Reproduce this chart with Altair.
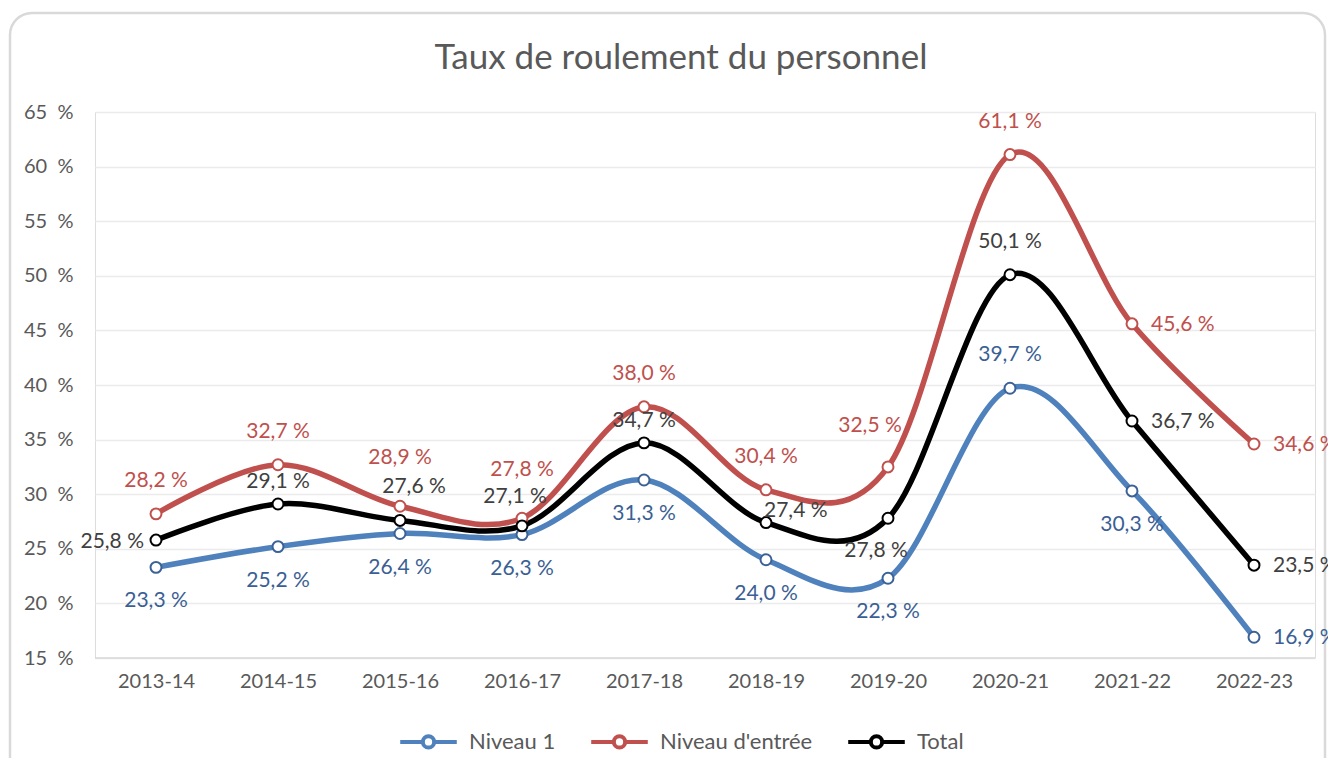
import altair as alt
import pandas as pd

# ---- data ----
chart_title = "Taux de roulement du personnel"
years = ["2013-14", "2014-15", "2015-16", "2016-17", "2017-18",
         "2018-19", "2019-20", "2020-21", "2021-22", "2022-23"]
series_names = ["Niveau 1", "Niveau d'entrée", "Total"]
niveau_1 = [23.3, 25.2, 26.4, 26.3, 31.3, 24.0, 22.3, 39.7, 30.3, 16.9]
niveau_entree = [28.2, 32.7, 28.9, 27.8, 38.0, 30.4, 32.5, 61.1, 45.6, 34.6]
total = [25.8, 29.1, 27.6, 27.1, 34.7, 27.4, 27.8, 50.1, 36.7, 23.5]
y_ticks = [15, 20, 25, 30, 35, 40, 45, 50, 55, 60, 65]

# label placement codes (per point)
place_n1 = ["S", "S", "S", "S", "S", "S", "S", "N", "S", "E"]
place_ne = ["N", "N", "N3", "N3", "N", "N", "NW2", "N", "E", "E"]
place_tot = ["W", "N2", "NE", "NW", "N2", "E2", "SW", "N", "E", "E"]

# ---- styles ----
line_colors = ["#4F81BD", "#C0504D", "#000000"]
marker_strokes = ["#3B6296", "#C0504D", "#000000"]
label_colors = ["#3B5F94", "#C0504D", "#404040"]
FONT = "Lato"
placements = {
    "N": ("center", 0, -33),
    "N2": ("center", 0, -22),
    "N3": ("center", 0, -48),
    "S": ("center", 0, 34),
    "E": ("left", 19, 1),
    "E2": ("left", -2, -12),
    "W": ("right", -12, 2),
    "NE": ("center", 14, -33),
    "NW": ("center", -7, -29),
    "NW2": ("center", -18, -41),
    "SW": ("center", -12, 33),
}

rows = []
for name, vals, places in zip(series_names, [niveau_1, niveau_entree, total],
                              [place_n1, place_ne, place_tot]):
    for yr, v, p in zip(years, vals, places):
        rows.append({"annee": yr, "serie": name, "valeur": v, "pos": p})
df = pd.DataFrame(rows)

x_enc = alt.X("annee:N", sort=years, title=None,
              axis=alt.Axis(labelAngle=0, labelFont=FONT, labelFontSize=20,
                            labelColor="#595959", ticks=False, domain=False,
                            labelPadding=13, grid=False))
y_enc = alt.Y("valeur:Q", title=None,
              scale=alt.Scale(domain=[15, 65], nice=False, zero=False),
              axis=alt.Axis(values=y_ticks, labelExpr="datum.value + '\u00a0 %'",
                            labelFont=FONT, labelFontSize=20, labelColor="#595959",
                            ticks=False, domain=False, labelPadding=22,
                            grid=True, gridColor="#EBEBEB", gridWidth=1.3))

color_scale = alt.Scale(domain=series_names, range=line_colors)

base = alt.Chart(df)

border = alt.Chart(pd.DataFrame({"k": [0]})).mark_rect(
    fillOpacity=0, stroke="#D9D9D9", strokeWidth=2.5, cornerRadius=22
).encode(x=alt.value(-85), x2=alt.value(1230), y=alt.value(-99), y2=alt.value(720))

title_mark = alt.Chart(pd.DataFrame({"t": [chart_title]})).mark_text(
    font=FONT, fontSize=35, color="#595959", align="center", baseline="middle"
).encode(x=alt.value(586), y=alt.value(-54), text="t:N")

baseline = alt.Chart(pd.DataFrame({"v": [15]})).mark_rule(
    color="#D9D9D9", strokeWidth=1.5
).encode(y=alt.Y("v:Q", scale=alt.Scale(domain=[15, 65], nice=False, zero=False)))

lines = base.mark_line(interpolate="cardinal", strokeWidth=5.5, strokeCap="round").encode(
    x=x_enc, y=y_enc,
    color=alt.Color("serie:N", scale=color_scale, sort=series_names,
                    legend=alt.Legend(title=None, orient="none", direction="horizontal",
                                      legendX=303, legendY=599,
                                      symbolType="M-1,0L-0.22,0M0.22,0L1,0M0.2,0A0.2,0.2,0,1,1,-0.2,0A0.2,0.2,0,1,1,0.2,0Z",
                                      symbolSize=3200, symbolStrokeWidth=4,
                                      symbolFillColor="white",
                                      labelFont=FONT, labelFontSize=22,
                                      labelColor="#595959", labelOffset=10,
                                      columnPadding=27)),
    detail="serie:N",
)

layers = [border, title_mark, baseline, lines]

for name, mcol in zip(series_names, marker_strokes):
    layers.append(
        base.transform_filter(alt.datum.serie == name).mark_point(
            shape="circle", filled=True, fill="white", stroke=mcol,
            strokeWidth=2, size=120, opacity=1
        ).encode(x=alt.X("annee:N", sort=years), y="valeur:Q")
    )

for name, lcol, places in zip(series_names, label_colors, [place_n1, place_ne, place_tot]):
    for code in sorted(set(places)):
        align, dx, dy = placements[code]
        layers.append(
            base.transform_filter((alt.datum.serie == name) & (alt.datum.pos == code))
            .transform_calculate(lbl="replace(format(datum.valeur, '.1f'), '.', ',') + ' %'")
            .mark_text(font=FONT, fontSize=21, color=lcol, align=align,
                       baseline="middle", dx=dx, dy=dy)
            .encode(x=alt.X("annee:N", sort=years), y="valeur:Q", text="lbl:N")
        )

chart = alt.layer(*layers).properties(
    width=1220, height=546,
    padding={"left": 87, "top": 104, "right": 13, "bottom": 100},
    autosize=alt.AutoSizeParams(type="none"),
).configure_view(stroke=None).configure(background="white")

chart.save("out.html", embed_options={"renderer": "svg", "actions": False})
